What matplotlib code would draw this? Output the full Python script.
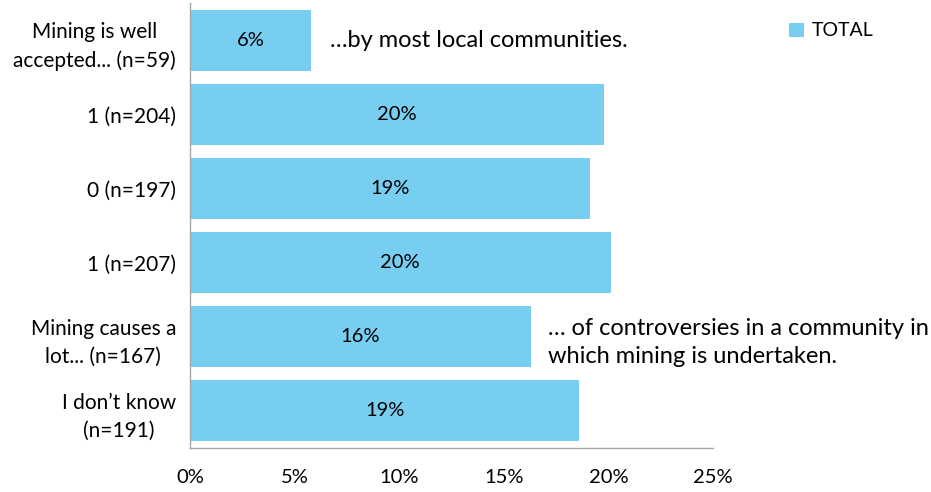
import matplotlib.pyplot as plt
import numpy as np

# survey answers, share of respondents
categories = ['Mining is well\naccepted... (n=59)', '1 (n=204)', '0 (n=197)',
              '1 (n=207)', 'Mining causes a\nlot... (n=167)', 'I don\u2019t know\n(n=191)']
shares = [5.8, 19.8, 19.1, 20.1, 16.3, 18.6]
x_ticks = [0, 5, 10, 15, 20, 25]
series_name = 'TOTAL'

plt.rcParams['font.family'] = ['Lato', 'DejaVu Sans']
plt.rcParams['font.size'] = 14

bar_color = '#78CEF0'

fig = plt.figure(figsize=(9.31, 4.92), dpi=100)
ax = fig.add_axes([0.204, 0.09, 0.562, 0.903])

y = np.arange(len(categories))
bars = ax.barh(y, shares, height=0.82, color=bar_color, label=series_name)

for yi, v in zip(y, shares):
    ax.text(v / 2, yi, f'{v:.0f}%', ha='center', va='center', fontsize=14.5)

ax.set_yticks(y)
ax.set_yticklabels(categories, fontsize=15, linespacing=1.5)
for lbl in ax.get_yticklabels():
    lbl.set_multialignment('center')
ax.set_ylim(len(categories) - 0.5, -0.5)

ax.set_xlim(0, 25)
ax.set_xticks(x_ticks)
ax.set_xticklabels([f'{t}%' for t in x_ticks], fontsize=14.5)
ax.tick_params(axis='both', length=0)
ax.tick_params(axis='x', pad=15)
ax.tick_params(axis='y', pad=10)

for side in ['top', 'right']:
    ax.spines[side].set_visible(False)
for side in ['left', 'bottom']:
    ax.spines[side].set_color('#A6A6A6')
    ax.spines[side].set_linewidth(1.0)

# statement endings next to the end-point bars
ax.text(6.7, 0, '\u2026by most local communities.', ha='left', va='center', fontsize=17)
ax.text(17.1, 4.08, '\u2026 of controversies in a community in\nwhich mining is undertaken.',
        ha='left', va='center', fontsize=17, linespacing=1.45)

fig.legend(handles=[bars], labels=[series_name], loc='upper left',
           bbox_to_anchor=(0.829, 0.99), frameon=False, fontsize=14,
           handlelength=0.75, handleheight=0.75, handletextpad=0.4)

fig.savefig('out.png', dpi=100)
